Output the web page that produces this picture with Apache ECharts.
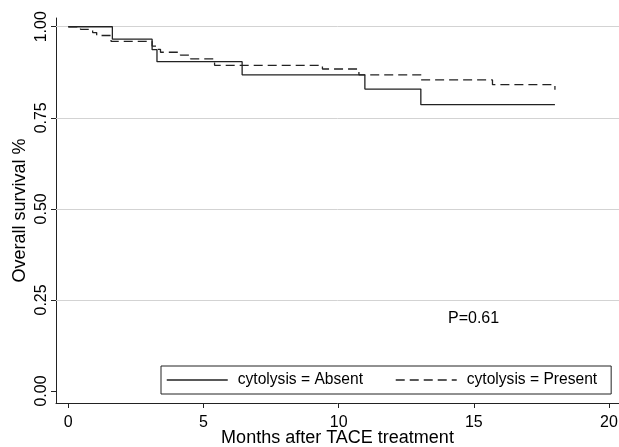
<!DOCTYPE html>
<html>
<head>
<meta charset="utf-8">
<script src="https://cdn.jsdelivr.net/npm/echarts@6/dist/echarts.min.js"></script>
<style>html,body{margin:0;padding:0;background:#fff}#c{width:619px;height:447px}</style>
</head>
<body>
<div id="c"></div>
<script>
// Kaplan-Meier step data: [month, survival]
const absentMonths   = [0, 1.63, 3.10, 3.28, 6.43, 10.97, 13.04, 18.0];
const absentSurv     = [1.0, 0.966, 0.937, 0.904, 0.868, 0.829, 0.786, 0.786];
const presentMonths  = [0, 0.45, 0.90, 1.05, 1.58, 3.10, 3.28, 3.41, 4.15, 4.52, 5.41, 9.40, 10.75, 13.04, 15.69, 18.0];
const presentSurv    = [1.0, 0.993, 0.984, 0.976, 0.960, 0.947, 0.938, 0.930, 0.922, 0.912, 0.894, 0.884, 0.868, 0.854, 0.841, 0.827];
const seriesNames    = ['cytolysis = Absent', 'cytolysis = Present'];
const xTicks         = [0, 5, 10, 15, 20];
const yTicks         = [0, 0.25, 0.5, 0.75, 1.0];
const gridValues     = [0.25, 0.5, 0.75, 1.0];
const pLabel         = 'P=0.61';
const xTitle         = 'Months after TACE treatment';
const yTitle         = 'Overall survival %';

const FONT = 'Liberation Sans, Arial, sans-serif';
const pairs = (xs, ys) => xs.map((x, i) => [x, ys[i]]);

const chart = echarts.init(document.getElementById('c'), null, {renderer: 'canvas'});
chart.setOption({
  animation: false,
  backgroundColor: '#fff',
  grid: {left: 56, right: 0, top: 18, bottom: 44, containLabel: false, outerBoundsMode: 'none'},
  xAxis: {
    type: 'value', min: -0.455, max: 20.37,
    name: xTitle, nameLocation: 'middle', nameGap: 26, nameMoveOverlap: false,
    nameTextStyle: {fontFamily: FONT, fontSize: 18, color: '#000'},
    axisLine: {show: true, onZero: false, lineStyle: {color: '#222', width: 1}},
    axisTick: {show: true, length: 5, customValues: xTicks, lineStyle: {color: '#222'}},
    axisLabel: {customValues: xTicks, margin: 12, fontFamily: FONT, fontSize: 16, color: '#000',
                showMinLabel: true, showMaxLabel: true},
    splitLine: {show: false}
  },
  yAxis: {
    type: 'value', min: -0.033, max: 1.024,
    name: yTitle, nameLocation: 'middle', nameGap: 27, nameRotate: 90, nameMoveOverlap: false,
    nameTextStyle: {fontFamily: FONT, fontSize: 18, color: '#000'},
    axisLine: {show: true, onZero: false, lineStyle: {color: '#222', width: 1}},
    axisTick: {show: true, length: 5, customValues: yTicks, lineStyle: {color: '#222'}},
    axisLabel: {customValues: yTicks, rotate: 90, margin: 6, fontFamily: FONT, fontSize: 16, color: '#000',
                formatter: v => v.toFixed(2)},
    splitLine: {show: false}
  },
  legend: {
    left: 161, top: 366,
    orient: 'horizontal',
    itemWidth: 61, itemHeight: 14, itemGap: 32,
    padding: [6, 14, 6, 5],
    borderColor: '#222', borderWidth: 1,
    itemStyle: {opacity: 0},
    lineStyle: {width: 1.5, color: '#222', opacity: 1},
    textStyle: {fontFamily: FONT, fontSize: 15.6, color: '#000', padding: [0, 0, 0, 5]},
    data: seriesNames
  },
  graphic: [{
    type: 'text', left: 448, top: 311,
    style: {text: pLabel, font: '16px ' + FONT, fill: '#000'}
  }],
  series: [
    {
      name: seriesNames[0], type: 'line', step: 'end', showSymbol: false, symbol: 'none',
      data: pairs(absentMonths, absentSurv),
      lineStyle: {color: '#222', width: 1.3, type: 'solid'},
      itemStyle: {color: '#222'},
      z: 3,
      markLine: {
        silent: true, symbol: 'none', label: {show: false},
        lineStyle: {color: '#d3d3d3', width: 1, type: 'solid'},
        data: gridValues.map(v => ({yAxis: v})),
        z: 1
      }
    },
    {
      name: seriesNames[1], type: 'line', step: 'end', showSymbol: false, symbol: 'none',
      data: pairs(presentMonths, presentSurv),
      lineStyle: {color: '#222', width: 1.3, type: [9, 5]},
      itemStyle: {color: '#222'},
      z: 3
    }
  ]
});
</script>
</body>
</html>
